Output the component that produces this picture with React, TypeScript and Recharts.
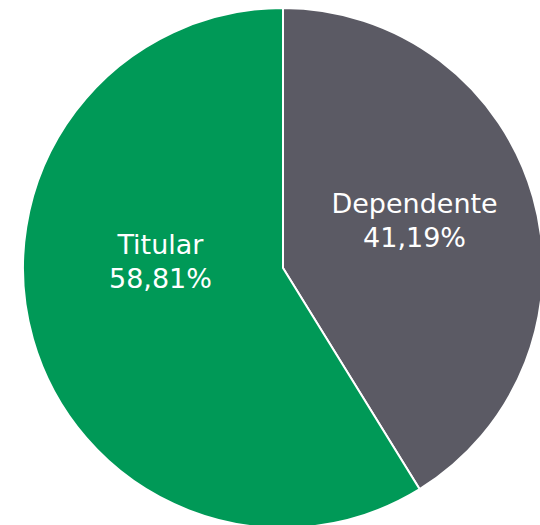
import { PieChart, Pie, Cell } from "recharts";

const categories = ["Dependente", "Titular"];
const values = [41.19, 58.81];
const colors = ["#5B5A64", "#009957"];

const data = categories.map((name, i) => ({ name, value: values[i] }));

const fmt = (v: number) => v.toFixed(2).replace(".", ",") + "%";

const RADIAN = Math.PI / 180;

// nudges so the labels sit where the original (Excel "best fit") put them
const labelNudge: Record<string, [number, number]> = {
    Dependente: [4, -19],
    Titular: [5, -50],
};

const renderLabel = (props: any) => {
    const { cx, cy, midAngle, outerRadius, name, value } = props;
    const r = outerRadius * 0.51;
    const [nx, ny] = labelNudge[name] || [0, 0];
    const x = cx + r * Math.cos(-midAngle * RADIAN) + nx;
    const y = cy + r * Math.sin(-midAngle * RADIAN) + ny;
    return (
        <text
            x={x}
            y={y}
            fill="#ffffff"
            textAnchor="middle"
            fontFamily="'DejaVu Sans', sans-serif"
            fontSize={27}
        >
            <tspan x={x} y={y}>{name}</tspan>
            <tspan x={x} dy={34}>{fmt(value)}</tspan>
        </text>
    );
};

export default function App() {
    return (
        <div style={{ position: "fixed", left: 0, top: 0, width: 540, height: 525, background: "#fff" }}>
            <PieChart width={540} height={525} margin={{ top: 0, right: 0, bottom: 0, left: 0 }}>
                <Pie
                    data={data}
                    dataKey="value"
                    cx={283}
                    cy={268}
                    outerRadius={260}
                    startAngle={90}
                    endAngle={-270}
                    stroke="#ffffff"
                    strokeWidth={2}
                    label={renderLabel}
                    labelLine={false}
                    isAnimationActive={false}
                >
                    {data.map((d, i) => (
                        <Cell key={d.name} fill={colors[i]} />
                    ))}
                </Pie>
            </PieChart>
        </div>
    );
}
